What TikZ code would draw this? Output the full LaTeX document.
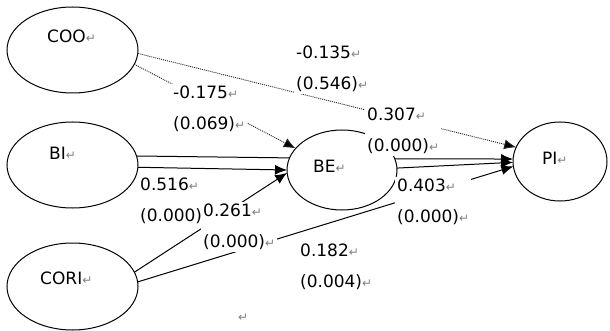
\documentclass[tikz,border=0pt]{standalone}
\usepackage{fontspec}
\setmainfont{DejaVu Sans}
\usetikzlibrary{shapes.geometric,arrows.meta}
\newfontfamily\retfont{DejaVu Sans}
\newcommand\RetMark{{\retfont\fontsize{12}{12}\selectfont\textcolor{gray}{↵}}}
\tikzset{
  ell/.style={draw, ellipse, line width=1pt, inner sep=0pt, outer sep=0pt},
  nm/.style={anchor=west, inner sep=0pt, font=\fontsize{17}{32}\selectfont},
  coef/.style={anchor=west, align=left, fill=white, inner sep=2pt, font=\fontsize{17}{31}\selectfont},
  dotline/.style={line width=0.9pt, dash pattern=on 1pt off 1pt, draw=black!85},
  solid line/.style={line width=1pt},
  tip/.style={-{Latex[length=12pt,width=10pt,fill=black]}}
}
\begin{document}
\begin{tikzpicture}[x=1pt,y=-1pt]
\useasboundingbox (0,0) rectangle (610,331);
% ellipses
\node[ell, minimum width=131pt, minimum height=86pt] (COO) at (72.5,50) {};
\node[ell, minimum width=131pt, minimum height=86pt] (BI) at (72.5,165) {};
\node[ell, minimum width=131pt, minimum height=87pt] (CORI) at (72.5,286.5) {};
\node[ell, minimum width=110pt, minimum height=80pt] (BE) at (342,170) {};
\node[ell, minimum width=94pt, minimum height=79pt] (PI) at (560,161.5) {};
% names
\node[nm] (COOt) at (47,36) {COO\RetMark};
\node[nm] (BIt) at (49,153) {BI\RetMark};
\node[nm] (CORIt) at (40,278) {CORI\RetMark};
\node[nm] (BEt) at (313,166) {BE\RetMark};
\node[nm] (PIt) at (542,158) {PI\RetMark};
% connectors
\draw[dotline, tip] (COO.-3) -- (PI.162);
\draw[dotline, tip] (COO.-13) -- (BE.155);
\draw[solid line] (BI.8) -- (BE.167);
\draw[solid line, tip] (BI.-2) -- (BE.180);
\draw[solid line, tip] (BE.12) -- (PI.177);
\draw[solid line, tip] (BE.2) -- (PI.181);
\draw[solid line, tip] (CORI.13) -- (BE.183);
\draw[solid line, tip] (CORI.4) -- (PI.186);
% coefficients
\node[coef] (c1) at (294,69) {-0.135\RetMark\\(0.546)\RetMark};
\node[coef] (c2) at (171,109) {-0.175\RetMark\\(0.069)\RetMark};
\node[coef] (c3) at (365,131) {0.307\RetMark\\(0.000)\RetMark};
\node[coef] (c4) at (138,200.5) {0.516\RetMark\\(0.000)\RetMark};
\node[coef] (c5) at (201,227) {0.261\RetMark\\(0.000)\RetMark};
\node[coef] (c6) at (395,202) {0.403\RetMark\\(0.000)\RetMark};
\node[coef] (c7) at (298,266.5) {0.182\RetMark\\(0.004)\RetMark};
\node[nm] (lone) at (238,318) {\RetMark};
\end{tikzpicture}
\end{document}
